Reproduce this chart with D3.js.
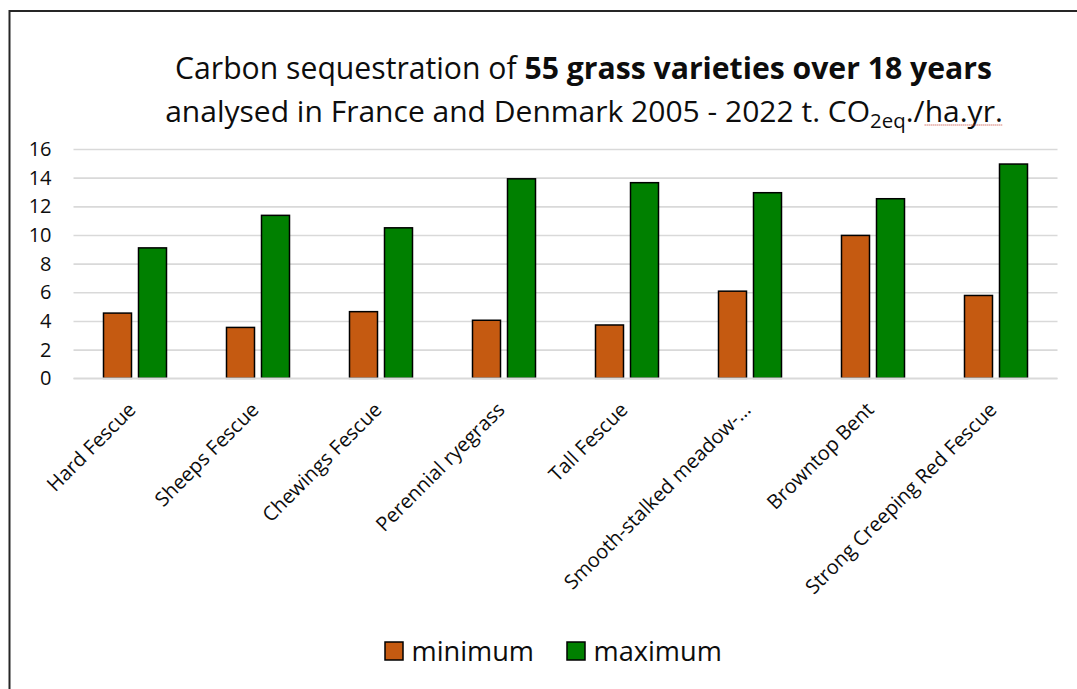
<!DOCTYPE html>
<html>
<head>
<meta charset="utf-8">
<script src="https://cdn.jsdelivr.net/npm/d3@7"></script>
<style>
  html, body { margin: 0; padding: 0; overflow: hidden; background: #fff; }
  svg { display: block; }
  text { font-family: "Open Sans", "Noto Sans", sans-serif; fill: #0d0d0d; }
</style>
</head>
<body>
<script>
// data
var categories = ["Hard Fescue", "Sheeps Fescue", "Chewings Fescue", "Perennial ryegrass",
                  "Tall Fescue", "Smooth-stalked meadow-…", "Browntop Bent", "Strong Creeping Red Fescue"];
var series = ["minimum", "maximum"];
var minimum = [4.55, 3.55, 4.65, 4.05, 3.72, 6.08, 9.97, 5.78];
var maximum = [9.1, 11.37, 10.5, 13.92, 13.65, 12.95, 12.53, 14.95];
var yTicks = [0, 2, 4, 6, 8, 10, 12, 14, 16];
var couleur = ["#c55a11", "#008000"];

var W = 1077, H = 689;
var plot = {left: 73.5, right: 1057.5, top: 149, bottom: 378.3};

var svg = d3.select("body")
  .append("svg")
  .attr("width", W)
  .attr("height", H);

// frame of the chart area: only top and left edges are in view
svg.append("path")
  .attr("d", "M9.5," + H + "V11H" + W)
  .attr("fill", "none")
  .attr("stroke", "#262626")
  .attr("stroke-width", 2);

var x0 = d3.scaleBand()
  .domain(categories)
  .range([plot.left, plot.right])
  .padding(0);

var x1 = d3.scaleBand()
  .domain(series)
  .range([30, x0.bandwidth() - 30])
  .paddingInner(0.2);

var y = d3.scaleLinear()
  .domain([0, 16])
  .range([plot.bottom, plot.top]);

// gridlines + tick labels
var yAxis = d3.axisLeft(y)
  .tickValues(yTicks)
  .tickSize(-(plot.right - plot.left))
  .tickPadding(22)
  .tickFormat(d3.format("d"));

var gy = svg.append("g")
  .attr("class", "y axis")
  .attr("transform", "translate(" + plot.left + ",0)")
  .call(yAxis);
gy.select(".domain").remove();
gy.selectAll(".tick line")
  .attr("stroke", "#d9d9d9")
  .attr("stroke-width", 1.6);
gy.selectAll(".tick text")
  .attr("font-size", 20)
  .attr("font-family", null)
  .attr("fill", "#0d0d0d");

// bars
var rows = categories.map(function(c, i) {
  return {cat: c, values: [minimum[i], maximum[i]]};
});

var groups = svg.append("g")
  .selectAll("g")
  .data(rows)
  .join("g")
  .attr("transform", function(d) { return "translate(" + x0(d.cat) + ",0)"; });

groups.selectAll("rect")
  .data(function(d) { return d.values.map(function(v, j) { return {s: series[j], v: v, j: j}; }); })
  .join("rect")
  .attr("x", function(d) { return x1(d.s); })
  .attr("y", function(d) { return y(d.v); })
  .attr("width", x1.bandwidth())
  .attr("height", function(d) { return y(0) - y(d.v); })
  .attr("fill", function(d) { return couleur[d.j]; })
  .attr("stroke", "#000")
  .attr("stroke-width", 1.5);

// zero line over the bar bottoms
svg.append("line")
  .attr("x1", plot.left).attr("x2", plot.right)
  .attr("y1", y(0)).attr("y2", y(0))
  .attr("stroke", "#d9d9d9")
  .attr("stroke-width", 1.6);

// category labels, rotated
svg.append("g")
  .selectAll("text")
  .data(categories)
  .join("text")
  .attr("transform", function(d) {
    return "translate(" + (x0(d) + x0.bandwidth() / 2 + 2) + ",411) rotate(-45)";
  })
  .attr("text-anchor", "end")
  .attr("font-size", 20)
  .text(function(d) { return d; });

// title
function fitWidth(sel, target) {
  var w = sel.node().getComputedTextLength();
  var fs = parseFloat(sel.attr("font-size"));
  sel.attr("font-size", fs * target / w);
}

var t1 = svg.append("text")
  .attr("x", 583.5).attr("y", 79)
  .attr("text-anchor", "middle")
  .attr("font-size", 24);
t1.append("tspan").text("Carbon sequestration of ");
t1.append("tspan").attr("font-weight", "bold").text("55 grass varieties over 18 years");
fitWidth(t1, 817);

var t2 = svg.append("text")
  .attr("x", 584).attr("y", 122)
  .attr("text-anchor", "middle")
  .attr("font-size", 24);
t2.append("tspan").text("analysed in France and Denmark 2005 - 2022 t. CO");
t2.append("tspan").attr("font-size", "68%").attr("dy", "0.3em").text("2eq");
var back = t2.append("tspan").attr("dy", "-0.3em").text("./");
var unit = t2.append("tspan").text("ha.yr.");
fitWidth(t2, 838);
// fix the dy of the period after the subscript (sized in the subscript's em)
var subFs = parseFloat(t2.attr("font-size")) * 0.68;
back.attr("dy", -subFs * 0.3 / parseFloat(t2.attr("font-size")) + "em");

// spelling squiggle under "ha.yr."
var u0 = unit.node().getStartPositionOfChar(0).x;
var u1 = unit.node().getEndPositionOfChar(5).x;
svg.append("line")
  .attr("x1", u0).attr("x2", u1)
  .attr("y1", 125).attr("y2", 125)
  .attr("stroke", "#c0392b")
  .attr("stroke-width", 1)
  .attr("stroke-dasharray", "1,1");

// legend
var legX = [385, 567];
var leg = svg.append("g")
  .selectAll("g")
  .data(series)
  .join("g")
  .attr("transform", function(d, i) { return "translate(" + legX[i] + ",642)"; });

leg.append("rect")
  .attr("width", 18).attr("height", 18)
  .attr("fill", function(d, i) { return couleur[i]; })
  .attr("stroke", "#000")
  .attr("stroke-width", 1.5);

var legText = leg.append("text")
  .attr("x", 26.5).attr("y", 9.5)
  .attr("dy", "0.35em")
  .attr("font-size", 25)
  .text(function(d) { return d; });
// size legend text so "minimum" spans like the reference
var lw = legText.nodes()[0].getComputedTextLength();
legText.attr("font-size", 25 * 122.6 / lw);
</script>
</body>
</html>
